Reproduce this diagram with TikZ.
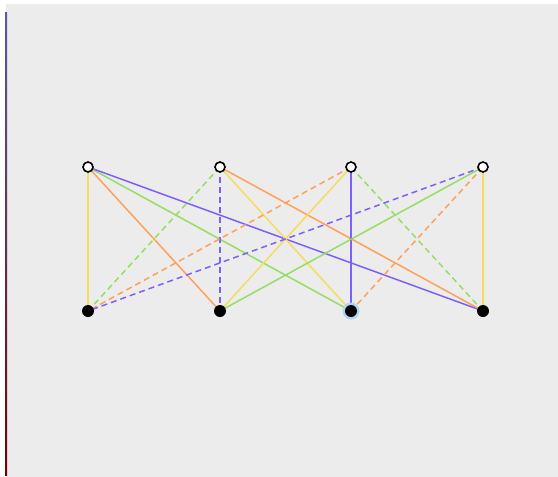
\documentclass[tikz,border=0pt]{standalone}
\usepackage{tikz}
\usetikzlibrary{backgrounds}
\definecolor{panel}{RGB}{236,236,236}
\definecolor{ylw}{RGB}{242,222,92}
\definecolor{org}{RGB}{255,160,88}
\definecolor{grn}{RGB}{148,222,98}
\definecolor{prp}{RGB}{126,94,255}
\definecolor{halo}{RGB}{176,212,246}

\begin{document}
\begin{tikzpicture}[
  x=1pt, y=-1pt,
  upper/.style={circle, draw=black, fill=white, line width=1.6pt,
                inner sep=0pt, minimum size=10pt},
  lower/.style={circle, fill=black, inner sep=0pt, minimum size=12pt},
  edge/.style={line width=1.5pt},
  dsh/.style={edge, dash pattern=on 6pt off 4pt}
]
\useasboundingbox (0,0) rectangle (558,477);

\node[upper] (t1) at (88,167)  {};
\node[upper] (t2) at (220,167) {};
\node[upper] (t3) at (351,167) {};
\node[upper] (t4) at (483,167) {};

\node[lower] (b1) at (88,311)  {};
\node[lower] (b2) at (220,311) {};
\node[lower] (b3) at (351,311) {};
\node[lower] (b4) at (483,311) {};

\begin{scope}[on background layer]
  \fill[white] (0,0) rectangle (558,477);
  \fill[panel] (6,4) rectangle (558,477);
  \shade[top color=blue!30!gray, bottom color=red!45!black] (5.2,12) rectangle (7,475);
  % from the first open node
  \draw[edge, ylw] (t1.center) -- (b1.center);
  \draw[edge, org] (t1.center) -- (b2.center);
  \draw[edge, grn] (t1.center) -- (b3.center);
  \draw[edge, prp] (t1.center) -- (b4.center);
  % second
  \draw[dsh, grn] (t2.center) -- (b1.center);
  \draw[dsh, prp] (t2.center) -- (b2.center);
  \draw[edge, ylw] (t2.center) -- (b3.center);
  \draw[edge, org] (t2.center) -- (b4.center);
  % third
  \draw[dsh, org] (t3.center) -- (b1.center);
  \draw[edge, ylw] (t3.center) -- (b2.center);
  \draw[edge, prp] (t3.center) -- (b3.center);
  \draw[dsh, grn] (t3.center) -- (b4.center);
  % fourth
  \draw[dsh, prp] (t4.center) -- (b1.center);
  \draw[edge, grn] (t4.center) -- (b2.center);
  \draw[dsh, org] (t4.center) -- (b3.center);
  \draw[edge, ylw] (t4.center) -- (b4.center);
  % selected node
  \fill[halo] (b3.center) circle (8.5);
\end{scope}
\end{tikzpicture}
\end{document}
